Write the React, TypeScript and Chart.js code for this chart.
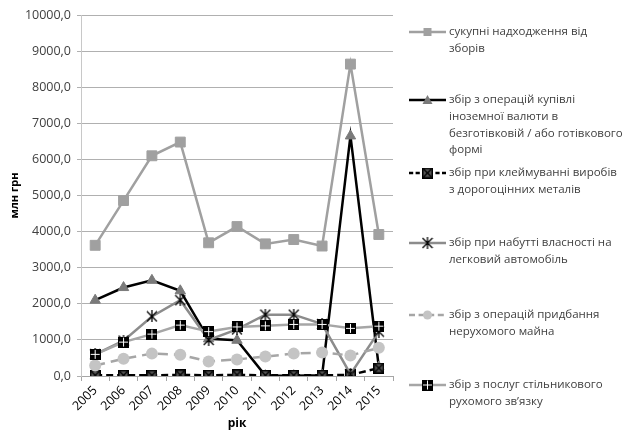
import React, { useEffect, useRef } from "react";
import { Chart, registerables } from "chart.js";

Chart.register(...registerables);

const years = ["2005", "2006", "2007", "2008", "2009", "2010", "2011", "2012", "2013", "2014", "2015"];
const total = [3620, 4860, 6100, 6480, 3690, 4140, 3660, 3780, 3600, 8640, 3920];
const currency = [2100, 2450, 2650, 2360, 1030, 990, 10, 10, 20, 6650, 250];
const hallmark = [20, 20, 20, 30, 20, 30, 20, 20, 20, 30, 220];
const car = [600, 980, 1650, 2100, 1000, 1290, 1700, 1700, 1440, 50, 1230];
const realty = [290, 480, 620, 590, 400, 460, 540, 620, 650, 570, 780];
const mobile = [600, 940, 1160, 1410, 1230, 1360, 1390, 1430, 1430, 1320, 1380];

const legendTexts: string[][] = [
  ["сукупні надходження від", "зборів"],
  ["збір з операцій купівлі", "іноземної валюти в", "безготівковій / або готівкового", "формі"],
  ["збір при клеймуванні виробів", "з дорогоцінних металів"],
  ["збір при набутті власності на", "легковий автомобіль"],
  ["збір з операцій придбання", "нерухомого майна"],
  ["збір з послуг стільникового", "рухомого зв’язку"],
];
const legendY = [32, 100, 173, 243, 315, 385];

const FONT = "'Open Sans', 'Noto Sans', sans-serif";

function makeCanvas(size: number, draw: (c: CanvasRenderingContext2D, s: number) => void) {
  const cv = document.createElement("canvas");
  cv.width = size;
  cv.height = size;
  const c = cv.getContext("2d")!;
  draw(c, size);
  return cv;
}

export default function App() {
  const ref = useRef<HTMLCanvasElement>(null);

  useEffect(() => {
    const hallmarkImg = makeCanvas(11, (c, s) => {
      c.fillStyle = "#000";
      c.fillRect(0, 0, s, s);
      c.fillStyle = "#555";
      c.fillRect(1.5, 1.5, s - 3, s - 3);
      c.strokeStyle = "#000";
      c.lineWidth = 1.3;
      c.beginPath();
      c.moveTo(1.5, 1.5);
      c.lineTo(s - 1.5, s - 1.5);
      c.moveTo(s - 1.5, 1.5);
      c.lineTo(1.5, s - 1.5);
      c.stroke();
    });
    const starImg = makeCanvas(12, (c, s) => {
      c.strokeStyle = "#000";
      c.lineWidth = 1.3;
      c.beginPath();
      c.moveTo(1, 1);
      c.lineTo(s - 1, s - 1);
      c.moveTo(s - 1, 1);
      c.lineTo(1, s - 1);
      c.moveTo(s / 2, 0);
      c.lineTo(s / 2, s);
      c.stroke();
    });
    const mobileImg = makeCanvas(11, (c, s) => {
      c.fillStyle = "#000";
      c.fillRect(0, 0, s, s);
      c.fillStyle = "#fff";
      c.fillRect(Math.floor(s / 2), 1, 1, s - 2);
      c.fillRect(1, Math.floor(s / 2), s - 2, 1);
    });

    const datasets: any[] = [
      {
        label: legendTexts[0].join(" "),
        data: total,
        borderColor: "#a0a0a0",
        backgroundColor: "#a0a0a0",
        borderWidth: 2.5,
        pointStyle: "rect",
        pointRadius: 7,
        pointBorderWidth: 1,
        pointBackgroundColor: "#a0a0a0",
        pointBorderColor: "#a0a0a0",
        order: 6,
      },
      {
        label: legendTexts[1].join(" "),
        data: currency,
        borderColor: "#000000",
        backgroundColor: "#7a7a7a",
        borderWidth: 2.5,
        pointStyle: "triangle",
        pointRadius: 6,
        pointBorderWidth: 1,
        pointBackgroundColor: "#7a7a7a",
        pointBorderColor: "#7a7a7a",
        order: 5,
      },
      {
        label: legendTexts[2].join(" "),
        data: hallmark,
        borderColor: "#000000",
        backgroundColor: "#555",
        borderWidth: 2.5,
        borderDash: [7, 4],
        pointStyle: hallmarkImg,
        order: 4,
      },
      {
        label: legendTexts[3].join(" "),
        data: car,
        borderColor: "#8c8c8c",
        backgroundColor: "#000",
        borderWidth: 2.5,
        pointStyle: starImg,
        order: 3,
      },
      {
        label: legendTexts[4].join(" "),
        data: realty,
        borderColor: "#a6a6a6",
        backgroundColor: "#c4c4c4",
        borderWidth: 2.5,
        borderDash: [10, 6],
        pointStyle: "circle",
        pointRadius: 6,
        pointBorderWidth: 0,
        pointBackgroundColor: "#c4c4c4",
        pointBorderColor: "#c4c4c4",
        order: 2,
      },
      {
        label: legendTexts[5].join(" "),
        data: mobile,
        borderColor: "#a6a6a6",
        backgroundColor: "#000",
        borderWidth: 2.5,
        pointStyle: mobileImg,
        order: 1,
      },
    ];

    const markerImgs: any[] = [null, null, hallmarkImg, starImg, null, mobileImg];

    const customPlugin = {
      id: "customText",
      afterDraw(chart: any) {
        const ctx = chart.ctx as CanvasRenderingContext2D;
        ctx.save();
        ctx.fillStyle = "#000";
        ctx.font = `bold 11px ${FONT}`;
        ctx.textAlign = "center";
        ctx.textBaseline = "middle";
        ctx.save();
        ctx.translate(15, (chart.chartArea.top + chart.chartArea.bottom) / 2);
        ctx.rotate(-Math.PI / 2);
        ctx.fillText("млн грн", 0, 0);
        ctx.restore();
        ctx.font = `bold 12px ${FONT}`;
        ctx.fillText("рік", 237, 424);

        ctx.font = `11.5px ${FONT}`;
        ctx.textAlign = "left";
        legendTexts.forEach((lines, i) => {
          const ds = datasets[i];
          const y = legendY[i];
          ctx.save();
          ctx.strokeStyle = ds.borderColor;
          ctx.lineWidth = 2.5;
          if (ds.borderDash) ctx.setLineDash(ds.borderDash.map((v: number) => v * 0.6));
          ctx.beginPath();
          ctx.moveTo(409, y);
          ctx.lineTo(446, y);
          ctx.stroke();
          ctx.restore();
          const cx = 427.5;
          const img = markerImgs[i];
          if (img) {
            ctx.drawImage(img, cx - img.width / 2, y - img.height / 2);
          } else {
            ctx.fillStyle = ds.pointBackgroundColor;
            ctx.beginPath();
            if (ds.pointStyle === "rect") {
              ctx.rect(cx - 4, y - 4, 8, 8);
            } else if (ds.pointStyle === "triangle") {
              ctx.moveTo(cx, y - 5);
              ctx.lineTo(cx + 5, y + 4);
              ctx.lineTo(cx - 5, y + 4);
              ctx.closePath();
            } else {
              ctx.arc(cx, y, 4.5, 0, Math.PI * 2);
            }
            ctx.fill();
          }
          ctx.fillStyle = "#404040";
          lines.forEach((t, k) => {
            ctx.fillText(t, 449, y + k * 16.7);
          });
        });
        ctx.restore();
      },
    };

    const chart = new Chart(ref.current!, {
      type: "line",
      data: { labels: years, datasets },
      options: {
        animation: false,
        responsive: false,
        maintainAspectRatio: false,
        layout: { padding: { top: 15, right: 232, left: 0, bottom: 0 } },
        plugins: {
          legend: { display: false },
          tooltip: { enabled: false },
        },
        scales: {
          x: {
            offset: true,
            grid: {
              offset: true,
              drawOnChartArea: false,
              drawTicks: true,
              tickLength: 5,
              color: "#a6a6a6",
            },
            border: { color: "#a6a6a6", width: 1 },
            ticks: {
              minRotation: 45,
              maxRotation: 45,
              padding: 2,
              color: "#000",
              font: { family: FONT, size: 12.5 },
            },
            afterFit: (scale: any) => {
              scale.height = 56;
            },
          },
          y: {
            min: 0,
            max: 10000,
            grid: { color: "#b0b0b0", tickLength: 4, lineWidth: 1 },
            border: { color: "#c8c8c8", width: 1 },
            ticks: {
              stepSize: 1000,
              padding: 6,
              color: "#404040",
              font: { family: FONT, size: 12.5 },
              callback: (v: any) => Number(v).toFixed(1).replace(".", ","),
            },
            afterFit: (scale: any) => {
              scale.width = 81;
            },
          },
        },
      },
      plugins: [customPlugin],
    });
    return () => chart.destroy();
  }, []);

  return (
    <div style={{ position: "fixed", left: 0, top: 0, width: 625, height: 432, background: "#fff" }}>
      <canvas ref={ref} width={625} height={432} style={{ width: 625, height: 432 }} />
    </div>
  );
}
